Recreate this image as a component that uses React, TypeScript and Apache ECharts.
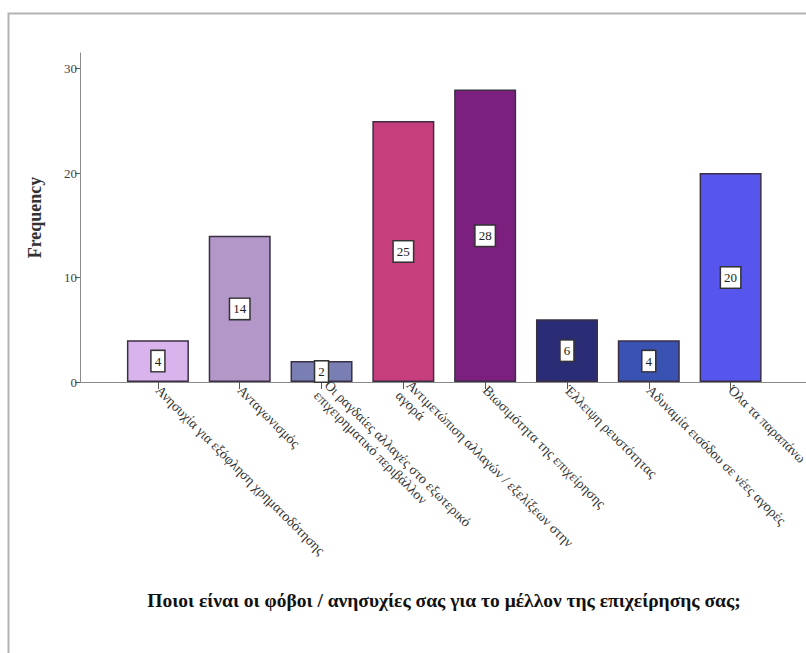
import React, { useEffect, useRef } from "react";
import * as echarts from "echarts";

const categories = [
  "Ανησυχία για εξόφληση χρηματοδότησης",
  "Ανταγωνισμός",
  "Οι ραγδαίες αλλαγές στο εξωτερικό\nεπιχειρηματικό περιβάλλον",
  "Αντιμετώπιση αλλαγών / εξελίξεων στην\nαγορά",
  "Βιωσιμότητα της επιχείρησης",
  "Έλλειψη ρευστότητας",
  "Αδυναμία εισόδου σε νέες αγορές",
  "Όλα τα παραπάνω",
];
const frequencies = [4, 14, 2, 25, 28, 6, 4, 20];
const barColors = ["#d9b4ec", "#b497c9", "#7a7fb3", "#c63f7c", "#7c207f", "#2b2c76", "#3a53b2", "#5656ef"];
const yTicks = [0, 10, 20, 30];
const xTitle = "Ποιοι είναι οι φόβοι / ανησυχίες σας για το μέλλον της επιχείρησης σας;";
const yTitle = "Frequency";

const serif = "'Liberation Serif', 'DejaVu Serif', serif";

export default function App() {
  const ref = useRef<HTMLDivElement>(null);
  useEffect(() => {
    if (!ref.current) return;
    const chart = echarts.init(ref.current, null, { renderer: "svg" });
    chart.setOption({
      animation: false,
      backgroundColor: "#ffffff",
      grid: [
        { left: 117, top: 53, width: 654.5, height: 329, containLabel: false, outerBoundsMode: "none" },
        { left: 80, top: 53, right: 0, height: 329, containLabel: false, outerBoundsMode: "none" },
      ],
      xAxis: [
        {
          type: "category",
          gridIndex: 0,
          data: categories,
          axisLine: { show: false },
          axisTick: { show: true, alignWithLabel: true, length: 7, lineStyle: { color: "#555" } },
          axisLabel: {
            interval: 0,
            rotate: -45,
            margin: 6,
            fontFamily: serif,
            fontSize: 14,
            color: "#333",
            lineHeight: 15,
          },
        },
        {
          type: "value",
          gridIndex: 1,
          min: 0,
          max: 1,
          axisLine: { show: true, lineStyle: { color: "#8a8a8a", width: 1 } },
          axisTick: { show: false },
          axisLabel: { show: false },
          splitLine: { show: false },
        },
      ],
      yAxis: [
        {
          type: "value",
          gridIndex: 0,
          min: 0,
          max: 31.5,
          offset: 37,
          axisLine: { show: true, lineStyle: { color: "#8a8a8a" } },
          axisTick: { show: true, customValues: yTicks, length: 5, lineStyle: { color: "#555" } },
          axisLabel: { customValues: yTicks, fontFamily: serif, fontSize: 13, color: "#444", margin: 3 },
          splitLine: { show: false },
          name: yTitle,
          nameLocation: "middle",
          nameGap: 36,
          nameTextStyle: { fontFamily: serif, fontSize: 18, fontWeight: "bold", color: "#333" },
        },
        {
          type: "value",
          gridIndex: 1,
          show: false,
          min: 0,
          max: 1,
        },
      ],
      series: [
        {
          type: "bar",
          xAxisIndex: 0,
          yAxisIndex: 0,
          barWidth: 62,
          data: frequencies.map((v, i) => ({
            value: v,
            itemStyle: { color: barColors[i], borderColor: "#3b2f45", borderWidth: 1.5 },
          })),
          label: {
            show: true,
            position: "inside",
            formatter: "{c}",
            backgroundColor: "#ffffff",
            borderColor: "#333",
            borderWidth: 1.5,
            padding: [4, 3, 3, 3],
            fontFamily: serif,
            fontSize: 13,
            color: "#222",
          },
        },
      ],
      graphic: [
        {
          type: "rect",
          shape: { x: 8.5, y: 13.5, width: 900, height: 900 },
          style: { fill: "none", stroke: "#b3b3b3", lineWidth: 2 },
          silent: true,
        },
        {
          type: "text",
          x: 444,
          y: 600,
          style: {
            text: xTitle,
            fontFamily: serif,
            fontSize: 19.5,
            fontWeight: "bold",
            fill: "#111",
            textAlign: "center",
            textVerticalAlign: "middle",
          },
        },
      ],
    });
    return () => chart.dispose();
  }, []);
  return (
    <div
      ref={ref}
      style={{ position: "absolute", left: 0, top: 0, width: 806, height: 653 }}
    />
  );
}
